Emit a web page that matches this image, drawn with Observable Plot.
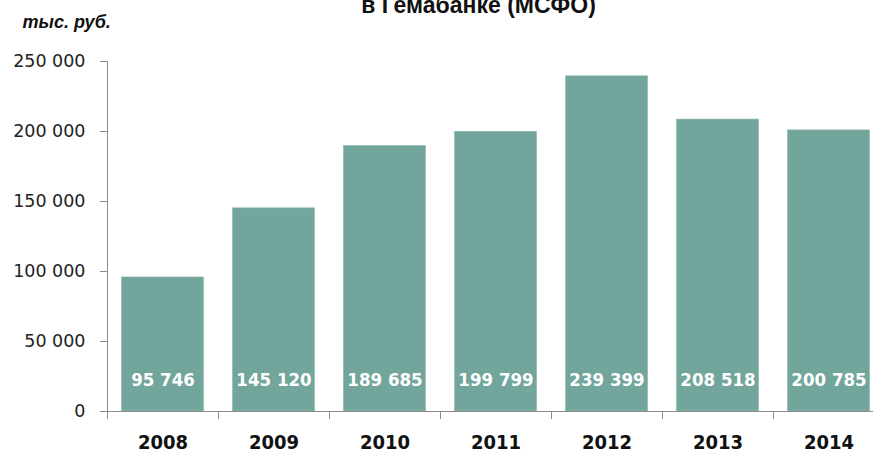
<!DOCTYPE html>
<html>
<head>
<meta charset="utf-8">
<script src="https://cdn.jsdelivr.net/npm/d3@7"></script>
<script src="https://cdn.jsdelivr.net/npm/@observablehq/plot@0.6"></script>
<style>
  html, body { margin: 0; padding: 0; background: #fff; overflow: hidden; }
  #chart svg { display: block; overflow: hidden; }
</style>
</head>
<body>
<div id="chart"></div>
<script>
const years = ["2008", "2009", "2010", "2011", "2012", "2013", "2014"];
const values = [95746, 145120, 189685, 199799, 239399, 208518, 200785];
const yTicks = [0, 50000, 100000, 150000, 200000, 250000];
const titleLine = "в Гемабанке (МСФО)";
const unitLabel = "тыс. руб.";

const data = years.map((y, i) => ({year: y, value: values[i]}));
const fmt = d3.formatLocale({thousands: " ", grouping: [3], decimal: ","}).format(",");

const W = 873, H = 456;
const mL = 107, mT = 61, mB = 45;
const xRange = [107, 884];
const step = (xRange[1] - xRange[0]) / years.length;
const axisColor = "#8c8c8c";
const barColor = "#72a69c";

const chart = Plot.plot({
  width: W,
  height: H,
  marginLeft: mL,
  marginTop: mT,
  marginBottom: mB,
  marginRight: 0,
  style: {background: "#fff", overflow: "hidden"},
  x: {domain: years, range: xRange, paddingInner: 0.26, paddingOuter: 0.13, round: false, axis: null, label: null},
  y: {domain: [0, 250000], axis: null, label: null},
  marks: [
    Plot.barY(data, {x: "year", y: "value", fill: barColor, stroke: "#8fbab1", strokeWidth: 0.6}),
    Plot.text(data, {x: "year", frameAnchor: "bottom", dy: -26, text: d => fmt(d.value),
      fill: "#fff", fontSize: 18.5, fontWeight: "bold", fontFamily: "'DejaVu Sans Condensed', 'DejaVu Sans', sans-serif"}),
    Plot.frame({anchor: "left", stroke: axisColor}),
    Plot.ruleY([0], {stroke: axisColor}),
    Plot.axisY({ticks: yTicks, tickSize: 7, tickPadding: 15, tickFormat: fmt, stroke: axisColor, label: null,
      fill: "#222", fontSize: 17.5, fontFamily: "'DejaVu Sans', sans-serif"}),
    Plot.axisX({tickSize: 8, dx: -step / 2, tickFormat: () => "", stroke: axisColor, label: null}),
    Plot.axisX({tickSize: 0, tickPadding: 23, fill: "#111", fontSize: 20, fontWeight: "bold", label: null,
      fontFamily: "'DejaVu Sans Condensed', 'DejaVu Sans', sans-serif"}),
    Plot.text([titleLine], {frameAnchor: "top", dx: -12, dy: -(mT - 12), lineAnchor: "bottom",
      fontSize: 23, fontWeight: "bold", fill: "#111", fontFamily: "'Liberation Sans', Arial, sans-serif"}),
    Plot.text([unitLabel], {frameAnchor: "top-left", dx: -(mL - 22), dy: -(mT - 27), lineAnchor: "bottom", textAnchor: "start",
      fontSize: 18, fontWeight: "bold", fontStyle: "italic", fill: "#111",
      fontFamily: "'Liberation Sans Narrow', 'Arial Narrow', 'Liberation Sans', sans-serif"})
  ]
});
document.getElementById("chart").appendChild(chart);
</script>
</body>
</html>
